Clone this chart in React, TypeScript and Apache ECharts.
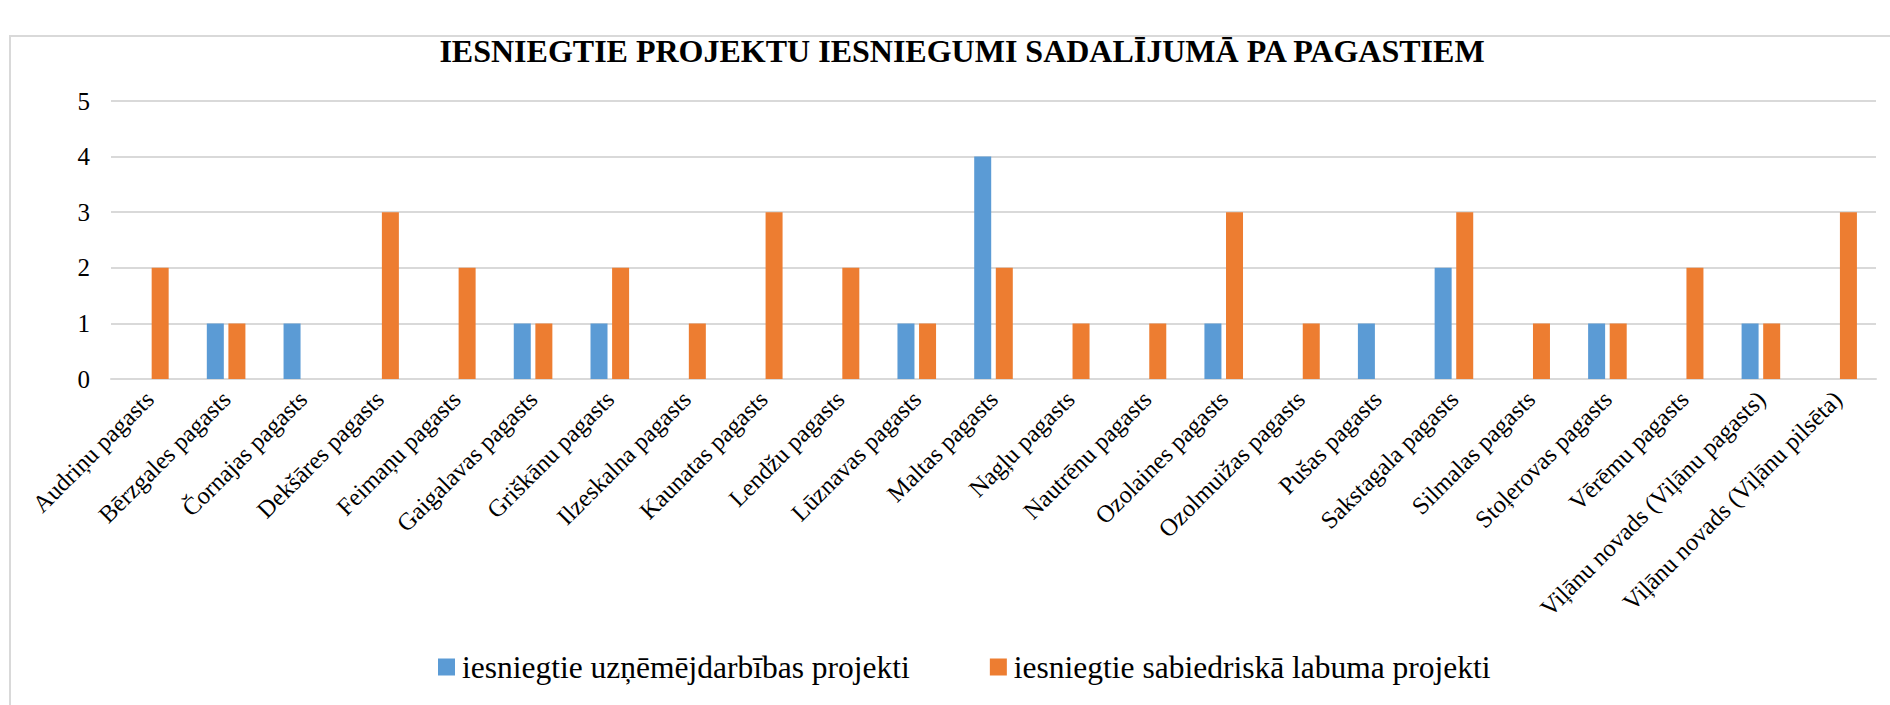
import React, { useEffect, useRef } from "react";
import * as echarts from "echarts";

const categories = [
  "Audriņu pagasts",
  "Bērzgales pagasts",
  "Čornajas pagasts",
  "Dekšāres pagasts",
  "Feimaņu pagasts",
  "Gaigalavas pagasts",
  "Griškānu pagasts",
  "Ilzeskalna pagasts",
  "Kaunatas pagasts",
  "Lendžu pagasts",
  "Lūznavas pagasts",
  "Maltas pagasts",
  "Nagļu pagasts",
  "Nautrēnu pagasts",
  "Ozolaines pagasts",
  "Ozolmuižas pagasts",
  "Pušas pagasts",
  "Sakstagala pagasts",
  "Silmalas pagasts",
  "Stoļerovas pagasts",
  "Vērēmu pagasts",
  "Viļānu novads (Viļānu pagasts)",
  "Viļānu novads (Viļānu pilsēta)",
];

const businessProjects = [0, 1, 1, 0, 0, 1, 1, 0, 0, 0, 1, 4, 0, 0, 1, 0, 1, 2, 0, 1, 0, 1, 0];
const publicBenefitProjects = [2, 1, 0, 3, 2, 1, 2, 1, 3, 2, 1, 2, 1, 1, 3, 1, 0, 3, 1, 1, 2, 1, 3];

const seriesNames = [
  "iesniegtie uzņēmējdarbības projekti",
  "iesniegtie sabiedriskā labuma projekti",
];

const titleText = "IESNIEGTIE PROJEKTU IESNIEGUMI SADALĪJUMĀ PA PAGASTIEM";

const FONT = "'Liberation Serif', 'Times New Roman', serif";

export default function App() {
  const ref = useRef<HTMLDivElement>(null);

  useEffect(() => {
    document.body.style.margin = "0";
    if (!ref.current) return;
    const chart = echarts.init(ref.current, null, { renderer: "svg" });
    chart.setOption({
      animation: false,
      backgroundColor: "#ffffff",
      graphic: [
        {
          type: "rect",
          shape: { x: 10, y: 36, width: 1900, height: 700 },
          style: { fill: "none", stroke: "#d9d9d9", lineWidth: 2 },
          silent: true,
          z: -1,
        },
      ],
      title: {
        text: titleText,
        left: 957,
        top: 30,
        textAlign: "center",
        textStyle: {
          fontFamily: FONT,
          fontSize: 32,
          fontWeight: "bold",
          color: "#000000",
        },
      },
      legend: {
        left: 433,
        top: 646,
        icon: "rect",
        itemWidth: 17,
        itemHeight: 17,
        itemGap: 80,
        textStyle: {
          fontFamily: FONT,
          fontSize: 31.5,
          color: "#000000",
          padding: [0, 0, 0, 2],
        },
        data: seriesNames,
      },
      grid: {
        left: 111,
        right: 14,
        top: 101,
        bottom: 326,
        containLabel: false,
      },
      xAxis: {
        type: "category",
        data: categories,
        axisLine: { show: true, lineStyle: { color: "#d9d9d9", width: 2 } },
        axisTick: { show: false },
        axisLabel: {
          interval: 0,
          rotate: 45,
          margin: 16,
          fontFamily: FONT,
          fontSize: 24.5,
          color: "#000000",
        },
      },
      yAxis: {
        type: "value",
        min: 0,
        max: 5,
        interval: 1,
        axisLine: { show: false },
        axisTick: { show: false },
        splitLine: { lineStyle: { color: "#d9d9d9", width: 2 } },
        axisLabel: {
          margin: 21,
          fontFamily: FONT,
          fontSize: 25,
          color: "#000000",
        },
      },
      series: [
        {
          name: seriesNames[0],
          type: "bar",
          data: businessProjects,
          barWidth: 17,
          barGap: "27%",
          itemStyle: { color: "#5B9BD5" },
        },
        {
          name: seriesNames[1],
          type: "bar",
          data: publicBenefitProjects,
          barWidth: 17,
          barGap: "27%",
          itemStyle: { color: "#ED7D31" },
        },
      ],
    });
    return () => chart.dispose();
  }, []);

  return <div ref={ref} style={{ width: 1890, height: 705 }} />;
}
